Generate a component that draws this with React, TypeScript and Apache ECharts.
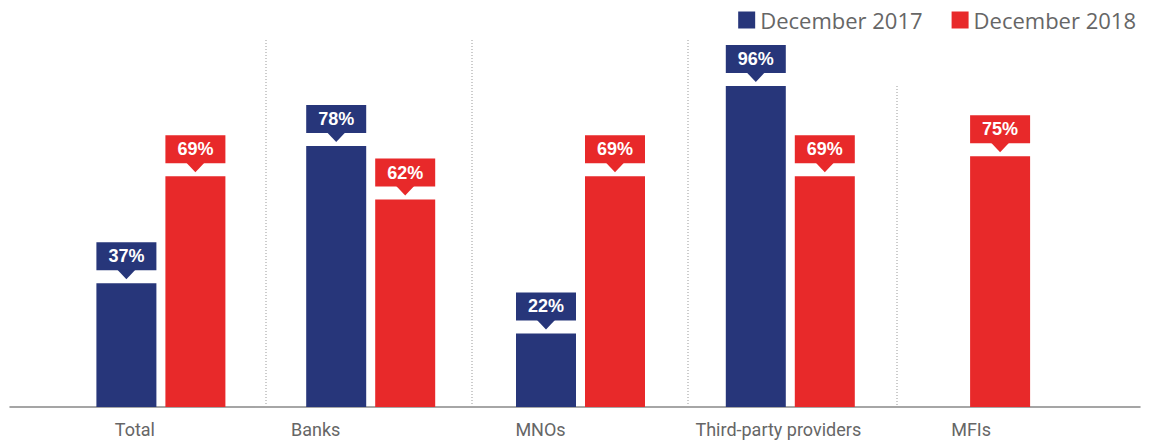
import React, { useEffect, useRef } from "react";
import * as echarts from "echarts";

const categories = ["Total", "Banks", "MNOs", "Third-party providers", "MFIs"];
const dec2017 = [37, 78, 22, 96, null];
const dec2018 = [69, 62, 69, 69, 75];
const seriesNames = ["December 2017", "December 2018"];
// horizontal shift of each category label (px to the left)
const labelShift = [26, 55, 40, 12, 29];

const BLUE = "#27367A";
const RED = "#E8292A";
const BAR_W = 60;
const BAR_GAP = 9;
const OFF = (BAR_W + BAR_GAP) / 2;

const grouped2018 = dec2018.map((v, i) => (dec2017[i] == null ? null : v));
const solo2018 = dec2018.map((v, i) => (dec2017[i] == null ? v : null));

const toPts = (vals: (number | null)[]) =>
  vals.map((v, i) => (v == null ? null : [i, v])).filter((d) => d != null);

const callout = (offset: number, color: string) => (params: any, api: any) => {
  const v = api.value(1);
  if (v == null || isNaN(v)) return;
  const p = api.coord([api.value(0), v]);
  const x = p[0] + offset;
  const y = p[1];
  return {
    type: "group",
    children: [
      { type: "rect", shape: { x: x - BAR_W / 2, y: y - 41, width: BAR_W, height: 28 }, style: { fill: color } },
      {
        type: "polygon",
        shape: { points: [[x - 9, y - 13.5], [x + 9, y - 13.5], [x, y - 4]] },
        style: { fill: color },
      },
      {
        type: "text",
        style: {
          text: v + "%",
          x: x,
          y: y - 27,
          align: "center",
          verticalAlign: "middle",
          fill: "#fff",
          fontSize: 18,
          fontWeight: "bold",
          fontFamily: "Liberation Sans, Arial, sans-serif",
        },
      },
    ],
  };
};

const sepX = [266, 472, 688, 897];
const sepTop = [40, 40, 40, 86];

export default function App() {
  const ref = useRef<HTMLDivElement>(null);
  useEffect(() => {
    document.body.style.margin = "0";
    const chart = echarts.init(ref.current!, null, { renderer: "svg" });
    const gridTop = 72.5;
    const gridBottom = 34;
    chart.setOption({
      animation: false,
      legend: {
        data: seriesNames,
        right: 14,
        top: 4,
        itemWidth: 17,
        itemHeight: 17,
        itemGap: 29,
        icon: "rect",
        textStyle: { color: "#666", fontSize: 22, fontFamily: "Open Sans, sans-serif" },
      },
      grid: [
        { left: 56, right: 50, top: gridTop, bottom: gridBottom },
        { left: 10, right: 15, top: gridTop, bottom: gridBottom },
      ],
      xAxis: [
        {
          type: "category",
          gridIndex: 0,
          data: categories.map((c, i) => ({
            value: c,
            textStyle: { padding: [0, labelShift[i] * 2, 0, 0] },
          })),
          axisLine: { show: false },
          axisTick: { show: false },
          axisLabel: {
            color: "#666",
            fontSize: 18,
            fontFamily: "Roboto, sans-serif",
            margin: 13,
            interval: 0,
          },
        },
        {
          type: "category",
          gridIndex: 0,
          data: categories,
          show: false,
        },
        {
          type: "value",
          gridIndex: 1,
          min: 0,
          max: 1,
          axisLine: { show: true, lineStyle: { color: "#888", width: 1.5 } },
          axisTick: { show: false },
          axisLabel: { show: false },
          splitLine: { show: false },
        },
      ],
      yAxis: [
        { type: "value", gridIndex: 0, min: 0, max: 100, show: false },
        { type: "value", gridIndex: 1, min: 0, max: 1, show: false },
      ],
      graphic: sepX.map((x, i) => ({
        type: "line",
        shape: { x1: x, y1: sepTop[i], x2: x, y2: 406 },
        style: { stroke: "#999", lineWidth: 1, lineDash: [1, 2] },
        silent: true,
        z: -1,
      })),
      series: [
        {
          name: seriesNames[0],
          type: "bar",
          xAxisIndex: 0,
          yAxisIndex: 0,
          data: dec2017,
          barWidth: BAR_W,
          barGap: (BAR_GAP / BAR_W) * 100 + "%",
          itemStyle: { color: BLUE },
        },
        {
          name: seriesNames[1],
          type: "bar",
          xAxisIndex: 0,
          yAxisIndex: 0,
          data: grouped2018,
          barWidth: BAR_W,
          barGap: (BAR_GAP / BAR_W) * 100 + "%",
          itemStyle: { color: RED },
        },
        {
          name: seriesNames[1],
          type: "bar",
          xAxisIndex: 1,
          yAxisIndex: 0,
          data: solo2018,
          barWidth: BAR_W,
          itemStyle: { color: RED },
        },
        {
          name: "callout2017",
          type: "custom",
          xAxisIndex: 0,
          yAxisIndex: 0,
          data: toPts(dec2017),
          encode: { x: 0, y: 1 },
          renderItem: callout(-OFF, BLUE),
          clip: false,
          silent: true,
          z: 10,
        },
        {
          name: "callout2018",
          type: "custom",
          xAxisIndex: 0,
          yAxisIndex: 0,
          data: toPts(grouped2018),
          encode: { x: 0, y: 1 },
          renderItem: callout(OFF, RED),
          clip: false,
          silent: true,
          z: 10,
        },
        {
          name: "callout2018solo",
          type: "custom",
          xAxisIndex: 1,
          yAxisIndex: 0,
          data: toPts(solo2018),
          encode: { x: 0, y: 1 },
          renderItem: callout(0, RED),
          clip: false,
          silent: true,
          z: 10,
        },
      ],
    });
    return () => chart.dispose();
  }, []);
  return <div ref={ref} style={{ width: 1155, height: 441 }} />;
}
